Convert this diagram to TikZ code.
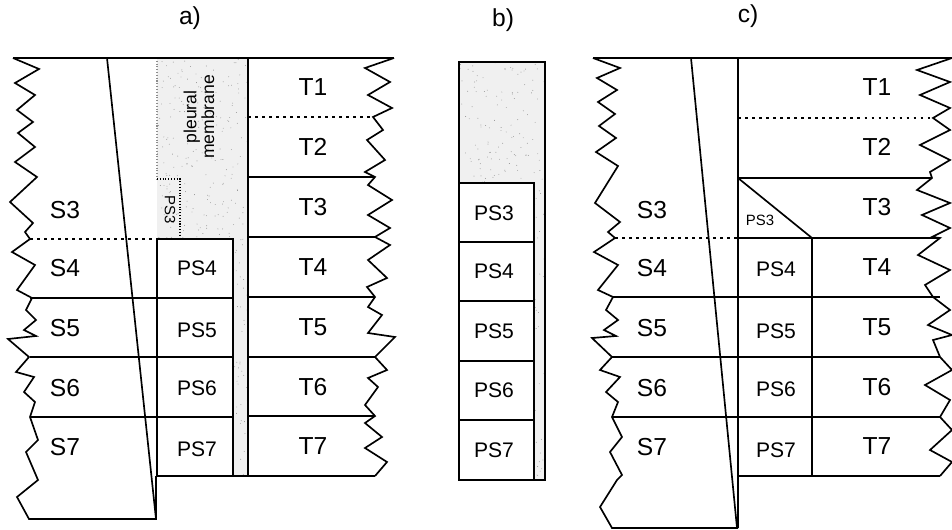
\documentclass[tikz,border=0pt]{standalone}
\usepackage{fontspec}
\setmainfont{Liberation Sans}
\usepackage{tikz}

\tikzset{
  lab/.style={font=\fontsize{14}{16}\selectfont, inner sep=0pt},
  pslab/.style={font=\fontsize{12}{14}\selectfont, inner sep=0pt},
  seg/.style={line width=0.95pt},
  thin seg/.style={line width=0.6pt},
  dots line/.style={line width=0.9pt, dash pattern=on 1.5pt off 2.5pt},
  membrane/.style={fill=black!6}
}

\begin{document}
\begin{tikzpicture}[x=0.02cm,y=-0.02cm]
      \useasboundingbox (0,0) rectangle (952,530);
      % titles
      \node[lab] (ta) at (190,18) {a)};
      \node[lab] (tb) at (503,20) {b)};
      \node[lab] (tc) at (748,16) {c)};

      % ---- a) ----
      \fill[membrane] (157,58) -- (248,58) -- (248,476) -- (233,476) -- (233,239) -- (157,239) -- cycle;
      \begin{scope}
        \clip (157,58) -- (248,58) -- (248,476) -- (233,476) -- (233,239) -- (157,239) -- cycle;
        \pgfmathsetseed{7}
        \foreach \i in {1,...,500} {
          \fill[black!45] ({157+91*rnd},{58+418*rnd}) circle (0.25pt);
        }
      \end{scope}
      \draw[thin seg, black!45, densely dotted] (157,58) -- (157,179);
      \draw[thin seg, densely dotted] (157,179) -- (180,179) -- (180,239);
      \draw[seg] (13,58) -- (394,58);
      \draw[seg] (13,58) -- (39,69) -- (15,83) -- (35,95) -- (17,110) -- (33,122) -- (18,133)
        -- (35,147) -- (15,162) -- (37,177) -- (10,202) -- (33,223) -- (25,232) -- (30,239)
        -- (12,252) -- (35,265) -- (17,290) -- (32,298) -- (26,310) -- (36,320) -- (24,330)
        -- (36,336) -- (8,339) -- (29,357) -- (16,372) -- (34,377) -- (24,392) -- (35,402)
        -- (30,417) -- (38,440) -- (26,452) -- (38,480) -- (17,497) -- (29,519) -- (156,519) -- (156,476);
      \draw[seg] (107,58) -- (156,519);
      \draw[dots line] (30,239) -- (157,239);
      \foreach \y in {298,357,417} {
        \draw[seg] (30,\y) -- (157,\y);
      }
      % PS column
      \draw[seg, fill=white] (157,239) rectangle (233,476);
      \foreach \y in {298,357,417} {
        \draw[thin seg] (157,\y) -- (233,\y);
      }
      \draw[seg] (233,476) -- (248,476);
      % T column
      \draw[seg] (248,58) -- (248,476) -- (375,476);
      \draw[dots line] (248,117) -- (373,117);
      \foreach \y in {177,237,297,357,416} {
        \draw[seg] (248,\y) -- (375,\y);
      }
      \draw[seg] (394,58) -- (365,68) -- (390,82) -- (368,95) -- (392,108) -- (373,117) -- (383,130)
        -- (367,140) -- (385,160) -- (365,172) -- (375,177) -- (368,185) -- (392,200) -- (368,215)
        -- (390,228) -- (375,237) -- (390,245) -- (368,260) -- (387,278) -- (367,287) -- (375,297)
        -- (368,307) -- (382,315) -- (368,333) -- (395,337) -- (375,357) -- (387,370) -- (368,378)
        -- (378,387) -- (365,405) -- (375,416) -- (365,423) -- (382,437) -- (365,448) -- (387,462)
        -- (375,476);
      \node[font=\fontsize{10}{10}\selectfont, rotate=90, align=center, inner sep=0pt] (pm) at (199,117) {pleural\\membrane};
      \node[font=\fontsize{8.5}{9}\selectfont, rotate=-90, inner sep=0pt] (aps3) at (170,210) {PS3};

      % ---- b) ----
      \fill[membrane] (459,62) rectangle (545,480);
      \begin{scope}
        \clip (459,62) rectangle (545,480);
        \pgfmathsetseed{11}
        \foreach \i in {1,...,350} {
          \fill[black!45] ({459+86*rnd},{62+418*rnd}) circle (0.25pt);
        }
      \end{scope}
      \draw[thin seg] (459,62) rectangle (545,480);
      \draw[seg, fill=white] (459,183) rectangle (534,480);
      \foreach \y in {242,301,361,420} {
        \draw[seg] (459,\y) -- (534,\y);
      }

      % ---- c) ----
      \draw[seg] (593,58) -- (952,58);
      \draw[seg] (593,58) -- (620,68) -- (597,78) -- (617,90) -- (598,102) -- (615,114) -- (599,126)
        -- (616,138) -- (596,152) -- (618,166) -- (595,203) -- (620,222) -- (608,232) -- (615,238)
        -- (594,252) -- (618,265) -- (598,290) -- (613,297) -- (606,310) -- (618,320) -- (604,330)
        -- (616,336) -- (592,338) -- (612,357) -- (600,370) -- (620,377) -- (606,392) -- (618,402)
        -- (612,417) -- (622,437) -- (610,452) -- (622,475) -- (617,480) -- (600,507) -- (612,528)
        -- (738,528);
      \draw[seg] (738,58) -- (738,528);
      \draw[seg] (691,58) -- (737,528);
      \draw[dots line] (615,238) -- (738,238);
      \draw[dots line] (738,118) -- (933,118);
      \draw[seg] (738,178) -- (932,178);
      \draw[seg] (738,178) -- (812,238);
      \draw[seg] (738,238) -- (940,238);
      \foreach \y in {297,357,417} {
        \draw[seg] (612,\y) -- (940,\y);
      }
      \draw[seg] (812,238) -- (812,476);
      \draw[seg] (738,476) -- (940,476);
      \draw[seg] (952,58) -- (917,70) -- (950,82) -- (920,95) -- (950,108) -- (933,118) -- (950,130)
        -- (920,145) -- (950,160) -- (930,172) -- (932,178) -- (917,190) -- (950,203) -- (922,215)
        -- (950,228) -- (932,237) -- (940,238) -- (918,255) -- (950,270) -- (925,285) -- (933,297)
        -- (950,310) -- (928,325) -- (952,335) -- (933,340) -- (940,357) -- (952,370) -- (925,385)
        -- (950,400) -- (940,417) -- (952,430) -- (930,450) -- (952,462) -- (940,476);
      \node[font=\fontsize{8.5}{9}\selectfont, inner sep=0pt] (cps3) at (760,220) {PS3};

      % labels
      \foreach \n/\y in {3/210,4/268,5/328,6/388,7/447} {
        \node[lab] (aS\n) at (65,\y) {S\n};
        \node[lab] (cS\n) at (652,\y) {S\n};
      }
      \foreach \n/\y in {1/87,2/147,3/207,4/267,5/327,6/387,7/446} {
        \node[lab] (aT\n) at (313,\y) {T\n};
        \node[lab] (cT\n) at (877,\y) {T\n};
      }
      \foreach \n/\y in {4/268,5/330,6/388,7/449} {
        \node[pslab] (aPS\n) at (197,\y) {PS\n};
        \node[pslab] (cPS\n) at (776,\y+1) {PS\n};
      }
      \foreach \n/\y in {3/213,4/271,5/331,6/390,7/450} {
        \node[pslab] (bPS\n) at (494,\y) {PS\n};
      }
    \end{tikzpicture}
\end{document}
